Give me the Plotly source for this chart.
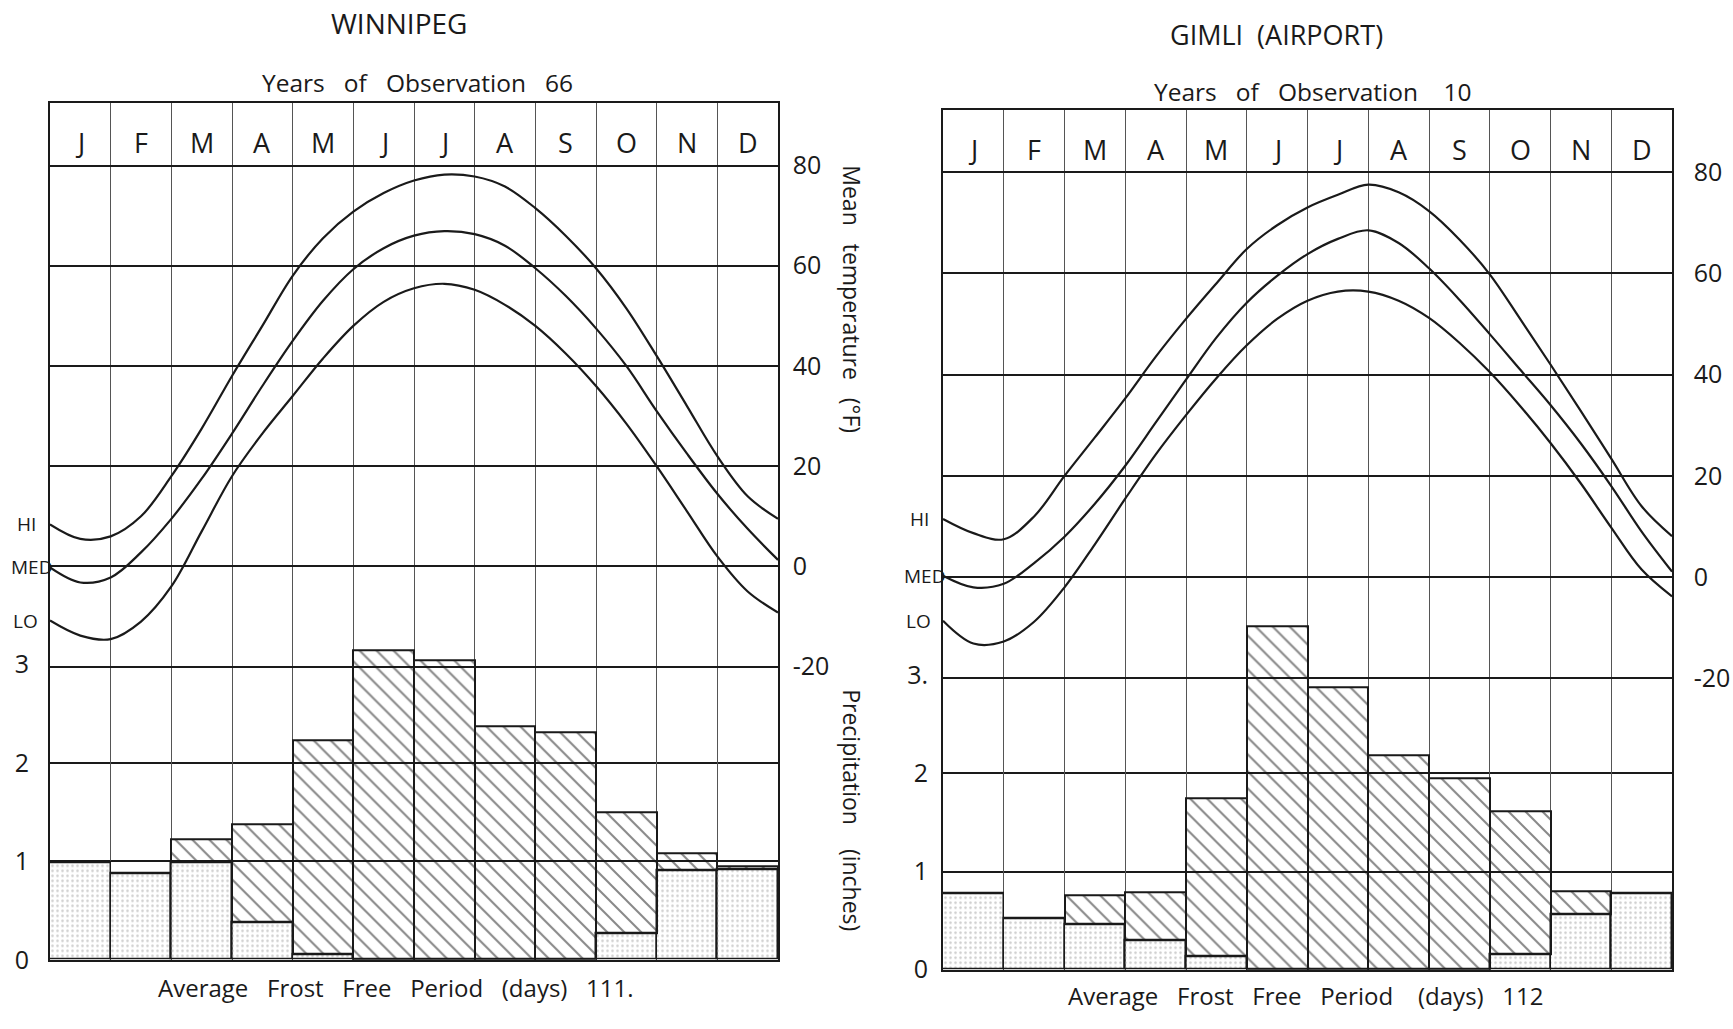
import plotly.graph_objects as go

# ---------------------------------------------------------------------------
# Climate summary: mean temperature (HI / MED / LO curves, deg F) and
# monthly precipitation (inches, snow part stippled, rain part hatched)
# ---------------------------------------------------------------------------

MONTHS = ["J", "F", "M", "A", "M", "J", "J", "A", "S", "O", "N", "D"]
MONTH_CENTERS = [m + 0.5 for m in range(12)]
# temperature readings taken at the start and the middle of every month,
# ending on the last day of December
HALF_MONTHS = [h / 2 for h in range(25)]
TEMP_TICKS = [80, 60, 40, 20, 0, -20]
TEMP_TICK_TEXT = ["80", "60", "40", "20", "0", "-20"]
PRECIP_TICKS = [0, 1, 2, 3]

# --- Winnipeg -------------------------------------------------------------
WPG_HI = [8.4, 5.5, 6.0, 10.0, 18.0, 27.5, 38.0, 48.0, 58.0, 65.5, 70.8, 74.5, 77.0,
          78.2, 77.8, 75.8, 71.5, 66.0, 59.5, 51.5, 42.0, 32.0, 22.0, 14.0, 9.5]
WPG_MED = [-0.2, -3.2, -2.2, 2.8, 9.5, 17.5, 26.5, 36.0, 45.0, 53.0, 59.3, 63.5, 66.0,
           66.9, 66.3, 64.0, 59.5, 54.0, 47.5, 40.0, 31.0, 22.5, 14.5, 7.5, 1.3]
WPG_LO = [-10.8, -13.8, -14.5, -11.0, -4.0, 7.0, 18.0, 26.5, 34.0, 41.5, 48.0, 52.8, 55.5,
          56.4, 55.2, 52.2, 48.0, 42.5, 36.0, 28.5, 20.0, 11.0, 2.0, -5.0, -9.2]
WPG_PRECIP = [0.99, 0.88, 1.22, 1.38, 2.23, 3.14, 3.04, 2.37, 2.31, 1.50, 1.08, 0.95]
WPG_SNOW = [0.99, 0.88, 0.99, 0.38, 0.06, 0.0, 0.0, 0.0, 0.0, 0.27, 0.91, 0.92]
WPG_YEARS = 66
WPG_FROST_FREE = "111."

# --- Gimli (Airport) ------------------------------------------------------
GIM_HI = [11.5, 8.7, 7.5, 12.0, 20.0, 27.6, 35.3, 43.5, 51.0, 58.0, 64.8, 69.5, 73.0,
          75.5, 77.5, 76.0, 72.3, 66.7, 59.8, 51.0, 42.0, 32.8, 23.4, 14.0, 8.1]
GIM_MED = [0.3, -2.0, -1.3, 2.8, 8.0, 14.5, 22.0, 30.5, 39.0, 47.3, 54.2, 59.5, 63.8,
           66.8, 68.5, 66.0, 61.0, 54.8, 48.0, 41.0, 34.0, 26.4, 18.0, 9.0, 1.1]
GIM_LO = [-8.6, -13.1, -12.7, -8.8, -2.0, 6.5, 15.5, 24.2, 32.0, 39.3, 45.8, 51.0, 54.6,
          56.4, 56.4, 54.6, 51.2, 46.3, 40.5, 33.8, 26.5, 18.5, 9.8, 1.5, -3.8]
GIM_PRECIP = [0.78, 0.52, 0.76, 0.79, 1.75, 3.50, 2.88, 2.19, 1.95, 1.61, 0.80, 0.78]
GIM_SNOW = [0.78, 0.52, 0.46, 0.30, 0.14, 0.0, 0.0, 0.0, 0.0, 0.16, 0.57, 0.78]
GIM_YEARS = 10
GIM_FROST_FREE = "112"

W, H = 1733, 1029
INK = "#1a1a1a"
FONT = "Open Sans, DejaVu Sans, sans-serif"
GAP = "\u00a0\u00a0\u00a0"


def px_x(x):
    return x / W


def px_y(y):
    return 1 - y / H


def spaced(*words):
    return GAP.join(str(w) for w in words)


fig = go.Figure()


def add_station(n, hi, med, lo, precip, snow, box, t_range, p_range,
                p_ticktext, t_standoff, p_standoff):
    """Draw one station panel: n = 1 or 2 picks the axis pair."""
    xa = "x" if n == 1 else "x2"
    ya_t = "y" if n == 1 else "y3"
    ya_p = "y2" if n == 1 else "y4"

    rain = [round(t - s, 3) for t, s in zip(precip, snow)]

    # snow part (stippled)
    fig.add_trace(go.Bar(
        x=MONTH_CENTERS, y=snow, base=[0] * 12, width=1.0,
        xaxis=xa, yaxis=ya_p, hoverinfo="skip",
        marker=dict(color="rgba(0,0,0,0)",
                    line=dict(color=INK, width=1.5),
                    pattern=dict(shape=".", fgcolor="#9c9c9c",
                                 bgcolor="rgba(0,0,0,0)", size=5,
                                 solidity=0.2, fillmode="overlay")),
    ))
    # rain part (hatched)
    fig.add_trace(go.Bar(
        x=MONTH_CENTERS, y=rain, base=snow, width=1.0,
        xaxis=xa, yaxis=ya_p, hoverinfo="skip",
        marker=dict(color="rgba(0,0,0,0)",
                    line=dict(color=INK, width=2),
                    pattern=dict(shape="\\", fgcolor="#111111",
                                 bgcolor="rgba(0,0,0,0)", size=12,
                                 solidity=0.17, fillmode="overlay")),
    ))

    for series in (hi, med, lo):
        fig.add_trace(go.Scatter(
            x=HALF_MONTHS, y=series, mode="lines",
            xaxis=xa, yaxis=ya_t, hoverinfo="skip",
            line=dict(color=INK, width=2.2, shape="spline", smoothing=1.0),
        ))

    x0, x1, y_top, y_bot = box
    suffix = "" if n == 1 else str(n)
    t_suffix = "" if n == 1 else "3"
    p_suffix = "2" if n == 1 else "4"

    fig.update_layout(**{
        "xaxis" + suffix: dict(
            domain=[px_x(x0), px_x(x1)], range=[0, 12], anchor=ya_t,
            tickvals=list(range(13)), showticklabels=False, ticks="",
            showgrid=True, gridcolor="#555555", gridwidth=1,
            showline=True, mirror=True, linecolor=INK, linewidth=2,
            zeroline=False, fixedrange=True,
        ),
        "yaxis" + t_suffix: dict(
            domain=[px_y(y_bot), px_y(y_top)], range=t_range, anchor=xa,
            side="right", tickvals=TEMP_TICKS, ticktext=TEMP_TICK_TEXT,
            ticks="", ticklabelstandoff=t_standoff,
            tickfont=dict(size=25, color=INK, family=FONT),
            showgrid=True, gridcolor=INK, gridwidth=2,
            showline=True, mirror=True, linecolor=INK, linewidth=1.5,
            zeroline=False, fixedrange=True,
        ),
        "yaxis" + p_suffix: dict(
            overlaying=ya_t, anchor=xa, side="left", range=p_range,
            tickvals=PRECIP_TICKS, ticktext=p_ticktext, ticks="",
            ticklabelstandoff=p_standoff,
            tickfont=dict(size=25, color=INK, family=FONT),
            showgrid=False, zeroline=False, showline=False,
            minor=dict(tickvals=[0, 1, 2], showgrid=True,
                       gridcolor=INK, gridwidth=2, ticks=""),
            fixedrange=True,
        ),
    })

    # month letters in the header band
    for m, label in enumerate(MONTHS):
        fig.add_annotation(x=MONTH_CENTERS[m], y=84.5, xref=xa, yref=ya_t,
                           text=label, showarrow=False,
                           font=dict(size=27, color=INK, family=FONT))

    # curve names at the start of each curve
    for name, series, shift in (("HI", hi, -12), ("MED", med, 4), ("LO", lo, -10)):
        fig.add_annotation(x=0, y=series[0], xref=xa, yref=ya_t, text=name,
                           showarrow=False, xanchor="right", xshift=shift,
                           font=dict(size=19, color=INK, family=FONT))


add_station(1, WPG_HI, WPG_MED, WPG_LO, WPG_PRECIP, WPG_SNOW,
            box=(50, 778, 105, 975), t_range=[-78.5, 92.4], p_range=[0, 8.7],
            p_ticktext=["0", "1", "2", "3"], t_standoff=8, p_standoff=20)
add_station(2, GIM_HI, GIM_MED, GIM_LO, GIM_PRECIP, GIM_SNOW,
            box=(943, 1672, 112, 985), t_range=[-77.5, 92.2], p_range=[0, 8.76],
            p_ticktext=["0", "1", "2", "3."], t_standoff=15, p_standoff=14)

# station titles and captions
texts = [
    ("WINNIPEG", 399, 23, 28, 0),
    (spaced("Years", "of", "Observation", WPG_YEARS), 417, 84, 24.5, 0),
    (spaced("Average", "Frost", "Free", "Period", "(days)", WPG_FROST_FREE), 396, 1003, 24, 0),
    ("GIMLI\u00a0\u00a0(AIRPORT)", 1276, 35, 27, 0),
    (spaced("Years", "of", "Observation", "\u00a0" + str(GIM_YEARS)), 1312, 93, 24.5, 0),
    (spaced("Average", "Frost", "Free", "Period", "\u00a0(days)", GIM_FROST_FREE), 1306, 1011, 24, 0),
    (spaced("Mean", "temperature", "(°F)"), 852, 304, 23, 90),
    (spaced("Precipitation", "\u00a0(inches)"), 852, 823, 23, 90),
]
for text, x, y, size, angle in texts:
    fig.add_annotation(x=px_x(x), y=px_y(y), xref="paper", yref="paper",
                       text=text, showarrow=False, textangle=angle,
                       xanchor="center", yanchor="middle",
                       font=dict(size=size, color=INK, family=FONT))

fig.update_layout(
    width=W, height=H,
    margin=dict(l=0, r=0, t=0, b=0),
    paper_bgcolor="white", plot_bgcolor="white",
    showlegend=False, barmode="overlay", bargap=0,
    font=dict(family=FONT, color=INK),
)

fig.write_html("out.html")
